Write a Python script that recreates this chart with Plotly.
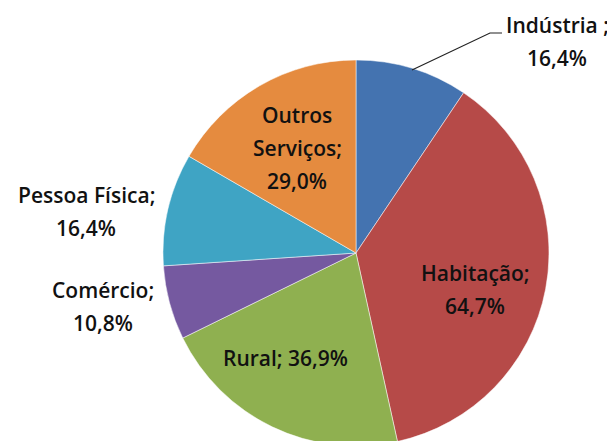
import plotly.graph_objects as go

# ── Dados ─────────────────────────────────────────────────────────────────────
setores = ["Indústria", "Habitação", "Rural", "Comércio", "Pessoa Física", "Outros Serviços"]
valores = [16.4, 64.7, 36.9, 10.8, 16.4, 29.0]
cores = ["#4473B0", "#B64A48", "#8FB050", "#7559A0", "#3FA4C4", "#E58B3F"]

# texto de cada rótulo (quebras de linha como no original)
rotulos_fmt = [
    "{n} ;|{v}",
    "{n};|{v}",
    "{n}; {v}",
    "{n};|{v}",
    "{n};|{v}",
    "Outros|Serviços;|{v}",
]
# centro da primeira linha de cada rótulo (pixels, origem no canto superior esquerdo)
rotulos_xy = [(549, 17), (467, 265), (277, 350), (95, 282), (78, 187), (289, 107)]
PASSO = 33  # distância entre linhas

W, H = 615, 441
OFF = 8  # margem do <body> na página


def fmt_pct(v):
    return f"{v:.1f}%".replace(".", ",")


def px(x, y):
    return x / W, 1 - y / H


fig = go.Figure(
    go.Pie(
        labels=setores,
        values=valores,
        sort=False,
        direction="clockwise",
        rotation=0,
        marker=dict(colors=cores, line=dict(color="rgba(255,255,255,0.5)", width=1)),
        textinfo="none",
        hoverinfo="label+value",
        domain=dict(x=[155 / W, 541 / W], y=[1 - 438 / H, 1 - 52 / H]),
        showlegend=False,
    )
)

for nome, v, f, (x, y) in zip(setores, valores, rotulos_fmt, rotulos_xy):
    linhas = f.format(n=nome, v=fmt_pct(v)).split("|")
    for i, linha in enumerate(linhas):
        ax, ay = px(x, y + i * PASSO)
        fig.add_annotation(
            x=ax, y=ay, xref="paper", yref="paper",
            text=linha,
            showarrow=False, xanchor="center", yanchor="middle",
            font=dict(family="Open Sans", size=21, color="#111111", weight=600),
        )

# linha de chamada da Indústria
p = [px(412 - OFF, 70 - OFF), px(490 - OFF, 33 - OFF), px(502 - OFF, 33 - OFF)]
fig.add_shape(
    type="path", xref="paper", yref="paper",
    path="M {} {} L {} {} L {} {}".format(*p[0], *p[1], *p[2]),
    line=dict(color="#222222", width=1.2),
)

fig.update_layout(
    width=W, height=H,
    margin=dict(l=0, r=0, t=0, b=0),
    paper_bgcolor="white",
    plot_bgcolor="white",
)

fig.write_html("out.html")
